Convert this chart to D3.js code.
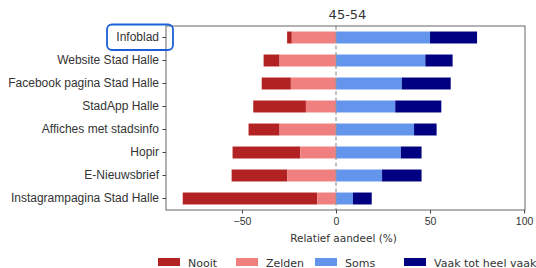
<!DOCTYPE html>
<html lang="nl">
<head>
    <meta charset="UTF-8">
    <title>45-54</title>
    <script src="https://cdnjs.cloudflare.com/ajax/libs/d3/7.8.5/d3.min.js"></script>
    <style>
        body { margin: 0; background: #fff; overflow: hidden; }
        svg { display: block; font-family: "DejaVu Sans", sans-serif; }
    </style>
</head>
<body>
<svg width="536" height="268"></svg>
<script>
    const categories = ["Infoblad", "Website Stad Halle", "Facebook pagina Stad Halle", "StadApp Halle",
        "Affiches met stadsinfo", "Hopir", "E-Nieuwsbrief", "Instagrampagina Stad Halle"];
    const nooit  = [2.5, 8.5, 15.5, 28, 16.5, 36, 29.5, 71.5];
    const zelden = [23.5, 30, 24, 16, 30, 19, 26, 10];
    const soms   = [50, 47.5, 35, 31.5, 41.5, 34.5, 24.5, 9];
    const vaak   = [25, 14.5, 26, 24.5, 12, 11, 21, 10];
    const seriesNames = ["Nooit", "Zelden", "Soms", "Vaak tot heel vaak"];
    const colors = ["#b22222", "#f08080", "#6495ed", "#000080"];
    const xTicks = [-50, 0, 50, 100];

    const svg = d3.select("svg");
    const plotL = 166, plotR = 525, plotT = 26, plotB = 210;

    const x = d3.scaleLinear().domain([-90.4, 100.5]).range([plotL, plotR]);
    const y = d3.scaleBand().domain(categories).range([plotT, plotB]).paddingInner(0.48).paddingOuter(0.24);

    // segments: negative side stacks outward from 0
    const segs = [];
    categories.forEach((c, i) => {
        segs.push({ c, s: 0, x0: -(nooit[i] + zelden[i]), x1: -zelden[i] });
        segs.push({ c, s: 1, x0: -zelden[i], x1: 0 });
        segs.push({ c, s: 2, x0: 0, x1: soms[i] });
        segs.push({ c, s: 3, x0: soms[i], x1: soms[i] + vaak[i] });
    });

    svg.append("g").selectAll("rect")
        .data(segs)
        .enter().append("rect")
        .attr("x", d => x(d.x0))
        .attr("width", d => x(d.x1) - x(d.x0))
        .attr("y", d => y(d.c))
        .attr("height", y.bandwidth())
        .attr("fill", d => colors[d.s]);

    // zero line
    svg.append("line")
        .attr("x1", x(0)).attr("x2", x(0))
        .attr("y1", plotT).attr("y2", plotB)
        .attr("stroke", "#999").attr("stroke-width", 1.2)
        .attr("stroke-dasharray", "4,2.5");

    // frame
    svg.append("rect")
        .attr("x", plotL).attr("y", plotT)
        .attr("width", plotR - plotL).attr("height", plotB - plotT)
        .attr("fill", "none").attr("stroke", "#666").attr("stroke-width", 1);

    const xAxis = svg.append("g")
        .attr("transform", `translate(0,${plotB})`)
        .call(d3.axisBottom(x).tickValues(xTicks).tickSize(3.5).tickPadding(4).tickFormat(d3.format("d")));
    xAxis.select(".domain").remove();
    xAxis.selectAll("line").attr("stroke", "#444");
    xAxis.selectAll("text").attr("font-size", 10.5).attr("fill", "#333");

    const yAxis = svg.append("g")
        .attr("transform", `translate(${plotL},0)`)
        .call(d3.axisLeft(y).tickSize(3.5).tickPadding(3.5));
    yAxis.select(".domain").remove();
    yAxis.selectAll("line").attr("stroke", "#444");
    yAxis.selectAll("text").attr("font-size", 12).attr("fill", "#333");

    svg.append("text")
        .attr("x", (plotL + plotR) / 2 + 2).attr("y", 19)
        .attr("text-anchor", "middle").attr("font-size", 13).attr("fill", "#333")
        .text("45-54");

    svg.append("text")
        .attr("x", (plotL + plotR) / 2 - 2).attr("y", 242)
        .attr("text-anchor", "middle").attr("font-size", 10.5).attr("fill", "#333")
        .text("Relatief aandeel (%)");

    // legend
    const legX = [158, 236, 315, 404];
    const leg = svg.append("g").selectAll("g")
        .data(seriesNames)
        .enter().append("g")
        .attr("transform", (d, i) => `translate(${legX[i]},258)`);
    leg.append("rect").attr("width", 22).attr("height", 8).attr("fill", (d, i) => colors[i]);
    leg.append("text").attr("x", 30).attr("y", 8.5).attr("font-size", 11).attr("fill", "#333").text(d => d);

    // highlight box around first category label
    svg.append("rect")
        .attr("x", 107).attr("y", 24.5)
        .attr("width", 66).attr("height", 25.5)
        .attr("rx", 5)
        .attr("fill", "none").attr("stroke", "#1a5fd6").attr("stroke-width", 1.8);
</script>
</body>
</html>
